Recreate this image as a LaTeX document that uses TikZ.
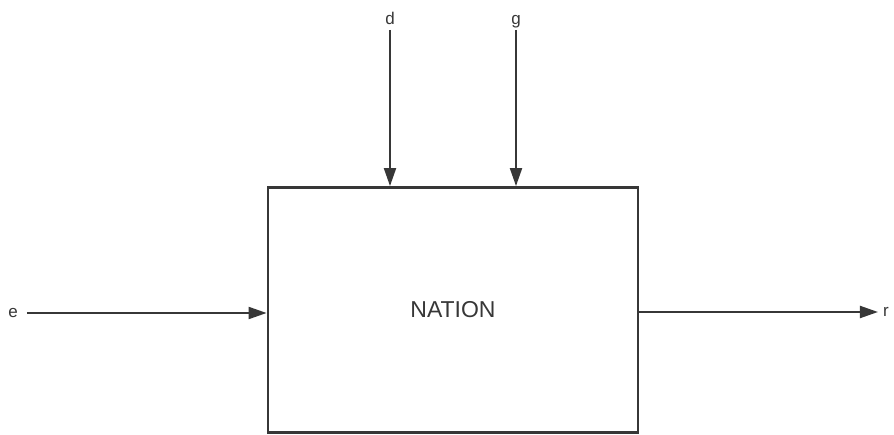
\documentclass[tikz,border=0pt]{standalone}
\usepackage{fontspec}
\setmainfont{Liberation Sans}
\usetikzlibrary{arrows.meta}
\definecolor{ink}{RGB}{55,55,55}
\begin{document}
\begin{tikzpicture}[x=1pt,y=-1pt,
  conn/.style={draw=ink,line width=2pt,-{Triangle[length=18pt,width=12pt]}},
  lbl/.style={inner sep=0pt,font=\fontsize{17}{19}\selectfont,text=ink},
  boxst/.style={draw=ink,line width=2.8pt,minimum width=370pt,minimum height=245pt,inner sep=0pt,font=\fontsize{23}{26}\selectfont,text=ink}]
\useasboundingbox (0,0) rectangle (894,435);
\node[boxst] (nation) at (453,310) {NATION};
\node[lbl,anchor=base] (d) at (390,25) {d};
\node[lbl,anchor=base] (g) at (516,25) {g};
\node[lbl] (e) at (13,313) {e};
\node[lbl] (r) at (886,312) {r};
\draw[conn] (d.south |- 0,30) -- (d.south |- nation.north);
\draw[conn] (g.south |- 0,30) -- (g.south |- nation.north);
\draw[conn] (e.east) ++(9,0) -- (nation.west |- e.east);
\draw[conn] (nation.east |- r.west) -- ([xshift=-5pt]r.west);
\end{tikzpicture}
\end{document}
